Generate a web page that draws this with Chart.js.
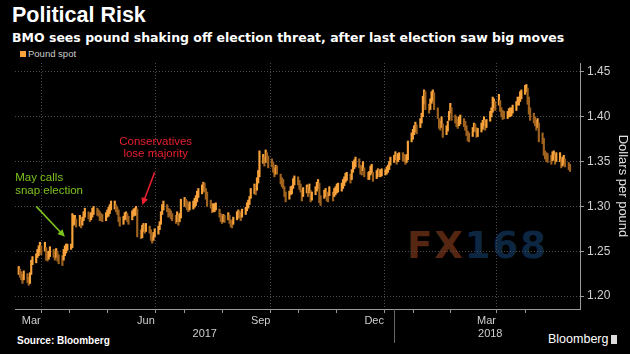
<!DOCTYPE html>
<html>
<head>
<meta charset="utf-8">
<script src="https://cdn.jsdelivr.net/npm/chart.js@4.4.1/dist/chart.umd.min.js"></script>
<style>
    body { margin: 0; background: #000; }
    #wrap { position: relative; width: 630px; height: 354px; background: #000; overflow: hidden; font-family: 'Liberation Sans', Arial, sans-serif; }
    #chart { position: absolute; left: 0; top: 0; z-index: 2; }
    .title { position: absolute; left: 12px; top: 3px; color: #fff; font-weight: bold; font-size: 21.5px; }
    .subtitle { position: absolute; left: 12px; top: 30px; color: #fff; font-weight: bold; font-size: 12.5px; white-space: nowrap; font-family: 'DejaVu Sans', sans-serif; }
    .legend { position: absolute; left: 20px; top: 48px; color: #ccc; font-size: 9.5px; }
    .legend span { display: inline-block; width: 6px; height: 6px; background: #f7a23b; margin-right: 2px; vertical-align: 0px; }
    .source { position: absolute; left: 17px; top: 335px; color: #fff; font-weight: bold; font-size: 10px; }
    .brand { position: absolute; left: 548px; top: 332px; color: #fff; font-size: 12.5px; }
    .brand i { display: inline-block; width: 6px; height: 9px; background: #ddd; margin-left: 3px; vertical-align: -1px; }
    .watermark { position: absolute; left: 407px; top: 224px; font-size: 37px; font-weight: bold; letter-spacing: 2px; z-index: 1; font-family: 'DejaVu Sans', sans-serif; }
    .watermark .fx { color: #552612; }
    .watermark .num { color: #0d2642; }
</style>
</head>
<body>
<div id="wrap">
    <div class="title">Political Risk</div>
    <div class="subtitle">BMO sees pound shaking off election threat, after last election saw big moves</div>
    <div class="legend"><span></span>Pound spot</div>
    <div class="watermark"><span class="fx">FX</span><span class="num">168</span></div>
    <canvas id="chart" width="630" height="354"></canvas>
    <div class="source">Source: Bloomberg</div>
    <div class="brand">Bloomberg<i></i></div>
</div>
<script>
// Pound spot, daily low / high, one row per trading week (starting Mon 6 Mar 2017)
const lows = [
    1.224, 1.221, 1.218, 1.214, 1.218,
    1.215, 1.212, 1.214, 1.224, 1.235,
    1.237, 1.243, 1.245, 1.249, 1.246,
    1.250, 1.240, 1.239, 1.241, 1.244,
    1.243, 1.240, 1.243, 1.239, 1.236,
    1.234, 1.240, 1.245, 1.248, 1.251,
    1.252, 1.254, 1.279, 1.280, 1.277,
    1.278, 1.276, 1.279, 1.284, 1.288,
    1.286, 1.283, 1.285, 1.288, 1.291,
    1.290, 1.289, 1.284, 1.284, 1.283,
    1.284, 1.288, 1.289, 1.292, 1.296,
    1.297, 1.294, 1.291, 1.283, 1.278,
    1.280, 1.285, 1.286, 1.283, 1.280,
    1.285, 1.289, 1.290, 1.290, 1.266,
    1.264, 1.265, 1.272, 1.270, 1.272,
    1.270, 1.262, 1.259, 1.262, 1.266,
    1.269, 1.274, 1.280, 1.291, 1.296,
    1.294, 1.288, 1.289, 1.286, 1.284,
    1.281, 1.283, 1.279, 1.283, 1.287,
    1.300, 1.299, 1.296, 1.294, 1.296,
    1.297, 1.299, 1.301, 1.305, 1.310,
    1.314, 1.317, 1.316, 1.308, 1.300,
    1.298, 1.293, 1.294, 1.294, 1.296,
    1.288, 1.283, 1.281, 1.283, 1.282,
    1.285, 1.281, 1.277, 1.276, 1.280,
    1.285, 1.287, 1.287, 1.284, 1.288,
    1.291, 1.295, 1.298, 1.302, 1.309,
    1.314, 1.313, 1.318, 1.326, 1.333,
    1.348, 1.345, 1.349, 1.349, 1.343,
    1.344, 1.338, 1.333, 1.336, 1.336,
    1.325, 1.322, 1.320, 1.311, 1.305,
    1.308, 1.313, 1.314, 1.320, 1.324,
    1.324, 1.319, 1.316, 1.306, 1.311,
    1.315, 1.311, 1.315, 1.305, 1.307,
    1.313, 1.317, 1.320, 1.304, 1.301,
    1.309, 1.311, 1.306, 1.305, 1.312,
    1.306, 1.311, 1.313, 1.315, 1.316,
    1.317, 1.320, 1.323, 1.327, 1.329,
    1.326, 1.330, 1.338, 1.342, 1.344,
    1.343, 1.336, 1.335, 1.340, 1.333,
    1.330, 1.330, 1.335, 1.337, 1.328,
    1.331, 1.333, 1.333, 1.333, 1.334,
    1.335, 1.336, 1.338, 1.341, 1.346,
    1.349, 1.352, 1.347, 1.350, 1.352,
    1.351, 1.350, 1.347, 1.349, 1.352,
    1.372, 1.375, 1.380, 1.383, 1.381,
    1.388, 1.393, 1.400, 1.414, 1.408,
    1.404, 1.408, 1.415, 1.418, 1.408,
    1.398, 1.387, 1.385, 1.388, 1.377,
    1.380, 1.384, 1.396, 1.404, 1.396,
    1.393, 1.389, 1.387, 1.390, 1.392,
    1.389, 1.385, 1.379, 1.373, 1.372,
    1.378, 1.384, 1.383, 1.377, 1.378,
    1.383, 1.386, 1.390, 1.385, 1.388,
    1.395, 1.400, 1.405, 1.410, 1.407,
    1.413, 1.406, 1.400, 1.397, 1.398,
    1.398, 1.400, 1.400, 1.401, 1.404,
    1.407, 1.413, 1.413, 1.417, 1.420,
    1.425, 1.428, 1.414, 1.403, 1.396,
    1.393, 1.390, 1.385, 1.388, 1.372,
    1.370, 1.357, 1.353, 1.350, 1.349,
    1.347, 1.351, 1.352, 1.347, 1.350,
    1.350, 1.343, 1.345, 1.347, 1.344,
    1.341, 1.339
];
const highs = [
    1.233, 1.230, 1.227, 1.224, 1.228,
    1.225, 1.221, 1.226, 1.240, 1.244,
    1.247, 1.252, 1.256, 1.260, 1.256,
    1.260, 1.254, 1.250, 1.250, 1.255,
    1.252, 1.249, 1.253, 1.250, 1.246,
    1.245, 1.252, 1.256, 1.258, 1.258,
    1.258, 1.292, 1.290, 1.290, 1.286,
    1.290, 1.285, 1.288, 1.294, 1.298,
    1.294, 1.292, 1.293, 1.298, 1.300,
    1.298, 1.296, 1.294, 1.292, 1.291,
    1.293, 1.296, 1.299, 1.302, 1.306,
    1.306, 1.302, 1.299, 1.296, 1.288,
    1.289, 1.293, 1.294, 1.292, 1.289,
    1.295, 1.297, 1.298, 1.300, 1.297,
    1.274, 1.279, 1.281, 1.279, 1.281,
    1.278, 1.274, 1.267, 1.271, 1.275,
    1.278, 1.283, 1.294, 1.302, 1.306,
    1.302, 1.298, 1.297, 1.295, 1.292,
    1.290, 1.294, 1.290, 1.292, 1.308,
    1.310, 1.308, 1.306, 1.303, 1.305,
    1.306, 1.309, 1.312, 1.317, 1.320,
    1.324, 1.327, 1.326, 1.320, 1.316,
    1.307, 1.303, 1.303, 1.303, 1.304,
    1.297, 1.292, 1.289, 1.291, 1.290,
    1.293, 1.290, 1.285, 1.284, 1.288,
    1.294, 1.296, 1.295, 1.293, 1.297,
    1.299, 1.304, 1.307, 1.311, 1.320,
    1.325, 1.323, 1.332, 1.340, 1.362,
    1.358, 1.355, 1.363, 1.360, 1.356,
    1.353, 1.349, 1.343, 1.346, 1.345,
    1.336, 1.332, 1.330, 1.322, 1.316,
    1.317, 1.322, 1.323, 1.331, 1.334,
    1.333, 1.329, 1.325, 1.318, 1.321,
    1.324, 1.321, 1.325, 1.318, 1.316,
    1.322, 1.327, 1.330, 1.326, 1.312,
    1.318, 1.320, 1.316, 1.315, 1.322,
    1.316, 1.320, 1.322, 1.325, 1.326,
    1.326, 1.330, 1.333, 1.337, 1.338,
    1.336, 1.341, 1.350, 1.352, 1.355,
    1.353, 1.346, 1.345, 1.350, 1.343,
    1.338, 1.339, 1.345, 1.347, 1.338,
    1.340, 1.342, 1.341, 1.341, 1.342,
    1.341, 1.344, 1.346, 1.350, 1.355,
    1.357, 1.361, 1.356, 1.359, 1.360,
    1.360, 1.358, 1.357, 1.358, 1.373,
    1.382, 1.386, 1.390, 1.394, 1.391,
    1.398, 1.404, 1.423, 1.430, 1.428,
    1.414, 1.420, 1.428, 1.430, 1.427,
    1.410, 1.398, 1.395, 1.400, 1.392,
    1.390, 1.395, 1.406, 1.415, 1.410,
    1.402, 1.400, 1.397, 1.400, 1.402,
    1.398, 1.395, 1.390, 1.384, 1.382,
    1.388, 1.393, 1.392, 1.388, 1.387,
    1.393, 1.396, 1.400, 1.396, 1.397,
    1.406, 1.410, 1.422, 1.420, 1.417,
    1.425, 1.418, 1.410, 1.407, 1.406,
    1.406, 1.409, 1.410, 1.410, 1.413,
    1.417, 1.422, 1.422, 1.428, 1.430,
    1.435, 1.436, 1.432, 1.422, 1.410,
    1.404, 1.400, 1.396, 1.398, 1.393,
    1.382, 1.376, 1.362, 1.360, 1.359,
    1.357, 1.361, 1.362, 1.357, 1.360,
    1.360, 1.353, 1.355, 1.357, 1.353,
    1.349, 1.347
];

const yTicks = [1.20, 1.25, 1.30, 1.35, 1.40, 1.45];
const monthLabels = ['Mar', 'Jun', 'Sep', 'Dec', 'Mar'];
const yearLabels = ['2017', '2018'];

// Day numbers counted from 1 Jan 2017
const DAY = 86400000;
const base = Date.UTC(2017, 0, 1);
const dayOf = (y, m, d) => (Date.UTC(y, m, d) - base) / DAY;
const firstDay = dayOf(2017, 2, 6);

// trading days, Mon..Fri
const days = lows.map((v, i) => firstDay + Math.floor(i / 5) * 7 + (i % 5));
const mids = lows.map((v, i) => (v + highs[i]) / 2);

// monthly ticks from Mar 2017 to May 2018
const monthStarts = [];
for (let m = 2; m <= 16; m++) monthStarts.push(dayOf(2017 + Math.floor(m / 12), m % 12, 1));
const quarterStarts = [dayOf(2017, 3, 1), dayOf(2017, 6, 1), dayOf(2017, 9, 1), dayOf(2018, 0, 1), dayOf(2018, 3, 1)];
const labelDays = [dayOf(2017, 2, 16), dayOf(2017, 5, 16), dayOf(2017, 8, 16), dayOf(2017, 11, 16), dayOf(2018, 2, 16)];
const yearStart = dayOf(2018, 0, 1);

const BRIGHT = '#f7a23b';
const DARK = '#a0631f';

// Annotation placement
const notes = [
    { lines: ['Conservatives', 'lose majority'], color: '#e8202f', from: [dayOf(2017, 5, 23), 1.338], to: [dayOf(2017, 5, 13), 1.3015], align: 'center', dx: 1, dy: [-31, -19] },
    { lines: ['May calls', 'snap election'], color: '#7cc21e', from: [dayOf(2017, 2, 20), 1.300], to: [dayOf(2017, 3, 12), 1.266], align: 'left', dx: -21, dy: [-29, -16] }
];

const extras = {
    id: 'extras',
    afterDraw(chart) {
        const { ctx, chartArea, scales: { x, y } } = chart;
        ctx.save();

        // year separator and year labels
        const sep = Math.round(x.getPixelForValue(yearStart)) + 0.5;
        ctx.strokeStyle = '#666';
        ctx.lineWidth = 1;
        ctx.beginPath();
        ctx.moveTo(sep, chartArea.bottom);
        ctx.lineTo(sep, chartArea.bottom + 34);
        ctx.stroke();
        ctx.fillStyle = '#cfcfcf';
        ctx.font = '11px "Liberation Sans", Arial, sans-serif';
        ctx.textAlign = 'center';
        ctx.textBaseline = 'middle';
        ctx.fillText(yearLabels[0], (chartArea.left + sep) / 2, chartArea.bottom + 25);
        ctx.fillText(yearLabels[1], (sep + chartArea.right) / 2 + 3, chartArea.bottom + 25);

        // annotations with arrows
        ctx.font = '11.5px "Liberation Sans", Arial, sans-serif';
        notes.forEach(n => {
            const x1 = x.getPixelForValue(n.from[0]), y1 = y.getPixelForValue(n.from[1]);
            const x2 = x.getPixelForValue(n.to[0]), y2 = y.getPixelForValue(n.to[1]);
            ctx.fillStyle = n.color;
            ctx.strokeStyle = n.color;
            ctx.textAlign = n.align;
            n.lines.forEach((t, i) => ctx.fillText(t, x1 + n.dx, y1 + n.dy[i]));
            const ang = Math.atan2(y2 - y1, x2 - x1);
            const hx = x2 - 6 * Math.cos(ang), hy = y2 - 6 * Math.sin(ang);
            ctx.lineWidth = 1.6;
            ctx.beginPath();
            ctx.moveTo(x1, y1);
            ctx.lineTo(hx, hy);
            ctx.stroke();
            ctx.beginPath();
            ctx.moveTo(x2, y2);
            ctx.lineTo(x2 - 8 * Math.cos(ang - 0.45), y2 - 8 * Math.sin(ang - 0.45));
            ctx.lineTo(x2 - 8 * Math.cos(ang + 0.45), y2 - 8 * Math.sin(ang + 0.45));
            ctx.closePath();
            ctx.fill();
        });
        ctx.restore();
    }
};

Chart.defaults.font.family = '"Liberation Sans", Arial, sans-serif';

new Chart(document.getElementById('chart'), {
    type: 'bar',
    data: {
        datasets: [{
            label: 'Pound spot',
            data: days.map((d, i) => ({ x: d, y: [lows[i], highs[i]] })),
            backgroundColor: ctx => (ctx.dataIndex > 0 && mids[ctx.dataIndex] < mids[ctx.dataIndex - 1]) ? DARK : BRIGHT,
            barThickness: 1.5,
            borderWidth: 0
        }]
    },
    options: {
        responsive: false,
        animation: false,
        layout: { padding: { left: 15, top: 63, right: 0, bottom: 0 } },
        plugins: {
            legend: { display: false },
            tooltip: { enabled: false }
        },
        scales: {
            x: {
                type: 'linear',
                min: dayOf(2017, 2, 3),
                max: dayOf(2018, 4, 30),
                offset: false,
                afterFit: s => { s.height = 45; },
                afterBuildTicks: s => {
                    s.ticks = monthStarts.concat(labelDays).sort((a, b) => a - b).map(v => ({ value: v }));
                },
                grid: {
                    color: c => quarterStarts.includes(c.tick && c.tick.value) ? '#4a4a4a' : 'transparent',
                    tickColor: c => monthStarts.includes(c.tick && c.tick.value) ? '#999' : 'transparent',
                    tickLength: 4,
                    lineWidth: 1
                },
                border: { display: true, color: '#9a9a9a', dash: [1, 2] },
                ticks: {
                    autoSkip: false,
                    maxRotation: 0,
                    padding: 1,
                    color: '#cfcfcf',
                    font: { size: 11 },
                    callback: v => {
                        const k = labelDays.indexOf(v);
                        return k >= 0 ? monthLabels[k] : '';
                    }
                }
            },
            y: {
                position: 'right',
                min: 1.1855,
                max: 1.46,
                afterFit: s => { s.width = 50; },
                afterBuildTicks: s => { s.ticks = yTicks.map(v => ({ value: v })); },
                grid: {
                    color: '#4a4a4a',
                    tickColor: '#9a9a9a',
                    tickLength: 4
                },
                border: { display: true, color: '#9a9a9a', dash: [1, 2] },
                ticks: {
                    padding: 3,
                    color: '#d0d0d0',
                    font: { size: 12 },
                    callback: v => v.toFixed(2)
                },
                title: {
                    display: true,
                    text: 'Dollars per pound',
                    color: '#e0e0e0',
                    font: { size: 13 },
                    padding: { top: 0, bottom: 4 }
                }
            }
        }
    },
    plugins: [extras]
});
</script>
</body>
</html>
